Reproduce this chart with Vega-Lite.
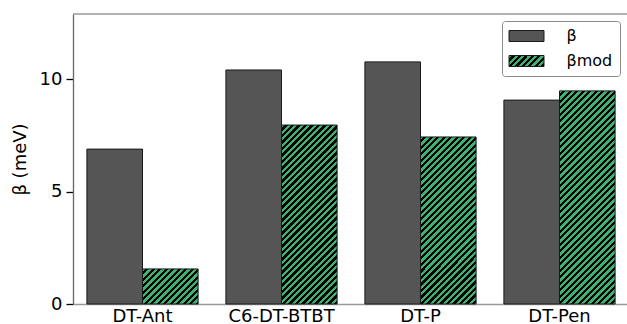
{
  "$schema": "https://vega.github.io/schema/vega-lite/v6.json",
  "width": 554,
  "height": 290,
  "autosize": {"type": "none"},
  "padding": {"left": 73, "top": 14, "right": 0, "bottom": 20},
  "background": "white",
  "params": [
    {
      "name": "hatch",
      "value": [
        {"offset": 0, "color": "#3cb371"},
        {"offset": 0.01, "color": "#3cb371"}, {"offset": 0.01, "color": "#000000"},
        {"offset": 0.02, "color": "#000000"}, {"offset": 0.02, "color": "#3cb371"},
        {"offset": 0.03, "color": "#3cb371"}, {"offset": 0.03, "color": "#000000"},
        {"offset": 0.04, "color": "#000000"}, {"offset": 0.04, "color": "#3cb371"},
        {"offset": 0.05, "color": "#3cb371"}, {"offset": 0.05, "color": "#000000"},
        {"offset": 0.06, "color": "#000000"}, {"offset": 0.06, "color": "#3cb371"},
        {"offset": 0.07, "color": "#3cb371"}, {"offset": 0.07, "color": "#000000"},
        {"offset": 0.08, "color": "#000000"}, {"offset": 0.08, "color": "#3cb371"},
        {"offset": 0.09, "color": "#3cb371"}, {"offset": 0.09, "color": "#000000"},
        {"offset": 0.10, "color": "#000000"}, {"offset": 0.10, "color": "#3cb371"},
        {"offset": 0.11, "color": "#3cb371"}, {"offset": 0.11, "color": "#000000"},
        {"offset": 0.12, "color": "#000000"}, {"offset": 0.12, "color": "#3cb371"},
        {"offset": 0.13, "color": "#3cb371"}, {"offset": 0.13, "color": "#000000"},
        {"offset": 0.14, "color": "#000000"}, {"offset": 0.14, "color": "#3cb371"},
        {"offset": 0.15, "color": "#3cb371"}, {"offset": 0.15, "color": "#000000"},
        {"offset": 0.16, "color": "#000000"}, {"offset": 0.16, "color": "#3cb371"},
        {"offset": 0.17, "color": "#3cb371"}, {"offset": 0.17, "color": "#000000"},
        {"offset": 0.18, "color": "#000000"}, {"offset": 0.18, "color": "#3cb371"},
        {"offset": 0.19, "color": "#3cb371"}, {"offset": 0.19, "color": "#000000"},
        {"offset": 0.20, "color": "#000000"}, {"offset": 0.20, "color": "#3cb371"},
        {"offset": 0.21, "color": "#3cb371"}, {"offset": 0.21, "color": "#000000"},
        {"offset": 0.22, "color": "#000000"}, {"offset": 0.22, "color": "#3cb371"},
        {"offset": 0.23, "color": "#3cb371"}, {"offset": 0.23, "color": "#000000"},
        {"offset": 0.24, "color": "#000000"}, {"offset": 0.24, "color": "#3cb371"},
        {"offset": 0.25, "color": "#3cb371"}, {"offset": 0.25, "color": "#000000"},
        {"offset": 0.26, "color": "#000000"}, {"offset": 0.26, "color": "#3cb371"},
        {"offset": 0.27, "color": "#3cb371"}, {"offset": 0.27, "color": "#000000"},
        {"offset": 0.28, "color": "#000000"}, {"offset": 0.28, "color": "#3cb371"},
        {"offset": 0.29, "color": "#3cb371"}, {"offset": 0.29, "color": "#000000"},
        {"offset": 0.30, "color": "#000000"}, {"offset": 0.30, "color": "#3cb371"},
        {"offset": 0.31, "color": "#3cb371"}, {"offset": 0.31, "color": "#000000"},
        {"offset": 0.32, "color": "#000000"}, {"offset": 0.32, "color": "#3cb371"},
        {"offset": 0.33, "color": "#3cb371"}, {"offset": 0.33, "color": "#000000"},
        {"offset": 0.34, "color": "#000000"}, {"offset": 0.34, "color": "#3cb371"},
        {"offset": 0.35, "color": "#3cb371"}, {"offset": 0.35, "color": "#000000"},
        {"offset": 0.36, "color": "#000000"}, {"offset": 0.36, "color": "#3cb371"},
        {"offset": 0.37, "color": "#3cb371"}, {"offset": 0.37, "color": "#000000"},
        {"offset": 0.38, "color": "#000000"}, {"offset": 0.38, "color": "#3cb371"},
        {"offset": 0.39, "color": "#3cb371"}, {"offset": 0.39, "color": "#000000"},
        {"offset": 0.40, "color": "#000000"}, {"offset": 0.40, "color": "#3cb371"},
        {"offset": 0.41, "color": "#3cb371"}, {"offset": 0.41, "color": "#000000"},
        {"offset": 0.42, "color": "#000000"}, {"offset": 0.42, "color": "#3cb371"},
        {"offset": 0.43, "color": "#3cb371"}, {"offset": 0.43, "color": "#000000"},
        {"offset": 0.44, "color": "#000000"}, {"offset": 0.44, "color": "#3cb371"},
        {"offset": 0.45, "color": "#3cb371"}, {"offset": 0.45, "color": "#000000"},
        {"offset": 0.46, "color": "#000000"}, {"offset": 0.46, "color": "#3cb371"},
        {"offset": 0.47, "color": "#3cb371"}, {"offset": 0.47, "color": "#000000"},
        {"offset": 0.48, "color": "#000000"}, {"offset": 0.48, "color": "#3cb371"},
        {"offset": 0.49, "color": "#3cb371"}, {"offset": 0.49, "color": "#000000"},
        {"offset": 0.50, "color": "#000000"}, {"offset": 0.50, "color": "#3cb371"},
        {"offset": 0.51, "color": "#3cb371"}, {"offset": 0.51, "color": "#000000"},
        {"offset": 0.52, "color": "#000000"}, {"offset": 0.52, "color": "#3cb371"},
        {"offset": 0.53, "color": "#3cb371"}, {"offset": 0.53, "color": "#000000"},
        {"offset": 0.54, "color": "#000000"}, {"offset": 0.54, "color": "#3cb371"},
        {"offset": 0.55, "color": "#3cb371"}, {"offset": 0.55, "color": "#000000"},
        {"offset": 0.56, "color": "#000000"}, {"offset": 0.56, "color": "#3cb371"},
        {"offset": 0.57, "color": "#3cb371"}, {"offset": 0.57, "color": "#000000"},
        {"offset": 0.58, "color": "#000000"}, {"offset": 0.58, "color": "#3cb371"},
        {"offset": 0.59, "color": "#3cb371"}, {"offset": 0.59, "color": "#000000"},
        {"offset": 0.60, "color": "#000000"}, {"offset": 0.60, "color": "#3cb371"},
        {"offset": 0.61, "color": "#3cb371"}, {"offset": 0.61, "color": "#000000"},
        {"offset": 0.62, "color": "#000000"}, {"offset": 0.62, "color": "#3cb371"},
        {"offset": 0.63, "color": "#3cb371"}, {"offset": 0.63, "color": "#000000"},
        {"offset": 0.64, "color": "#000000"}, {"offset": 0.64, "color": "#3cb371"},
        {"offset": 0.65, "color": "#3cb371"}, {"offset": 0.65, "color": "#000000"},
        {"offset": 0.66, "color": "#000000"}, {"offset": 0.66, "color": "#3cb371"},
        {"offset": 0.67, "color": "#3cb371"}, {"offset": 0.67, "color": "#000000"},
        {"offset": 0.68, "color": "#000000"}, {"offset": 0.68, "color": "#3cb371"},
        {"offset": 0.69, "color": "#3cb371"}, {"offset": 0.69, "color": "#000000"},
        {"offset": 0.70, "color": "#000000"}, {"offset": 0.70, "color": "#3cb371"},
        {"offset": 0.71, "color": "#3cb371"}, {"offset": 0.71, "color": "#000000"},
        {"offset": 0.72, "color": "#000000"}, {"offset": 0.72, "color": "#3cb371"},
        {"offset": 0.73, "color": "#3cb371"}, {"offset": 0.73, "color": "#000000"},
        {"offset": 0.74, "color": "#000000"}, {"offset": 0.74, "color": "#3cb371"},
        {"offset": 0.75, "color": "#3cb371"}, {"offset": 0.75, "color": "#000000"},
        {"offset": 0.76, "color": "#000000"}, {"offset": 0.76, "color": "#3cb371"},
        {"offset": 0.77, "color": "#3cb371"}, {"offset": 0.77, "color": "#000000"},
        {"offset": 0.78, "color": "#000000"}, {"offset": 0.78, "color": "#3cb371"},
        {"offset": 0.79, "color": "#3cb371"}, {"offset": 0.79, "color": "#000000"},
        {"offset": 0.80, "color": "#000000"}, {"offset": 0.80, "color": "#3cb371"},
        {"offset": 0.81, "color": "#3cb371"}, {"offset": 0.81, "color": "#000000"},
        {"offset": 0.82, "color": "#000000"}, {"offset": 0.82, "color": "#3cb371"},
        {"offset": 0.83, "color": "#3cb371"}, {"offset": 0.83, "color": "#000000"},
        {"offset": 0.84, "color": "#000000"}, {"offset": 0.84, "color": "#3cb371"},
        {"offset": 0.85, "color": "#3cb371"}, {"offset": 0.85, "color": "#000000"},
        {"offset": 0.86, "color": "#000000"}, {"offset": 0.86, "color": "#3cb371"},
        {"offset": 0.87, "color": "#3cb371"}, {"offset": 0.87, "color": "#000000"},
        {"offset": 0.88, "color": "#000000"}, {"offset": 0.88, "color": "#3cb371"},
        {"offset": 0.89, "color": "#3cb371"}, {"offset": 0.89, "color": "#000000"},
        {"offset": 0.90, "color": "#000000"}, {"offset": 0.90, "color": "#3cb371"},
        {"offset": 0.91, "color": "#3cb371"}, {"offset": 0.91, "color": "#000000"},
        {"offset": 0.92, "color": "#000000"}, {"offset": 0.92, "color": "#3cb371"},
        {"offset": 0.93, "color": "#3cb371"}, {"offset": 0.93, "color": "#000000"},
        {"offset": 0.94, "color": "#000000"}, {"offset": 0.94, "color": "#3cb371"},
        {"offset": 0.95, "color": "#3cb371"}, {"offset": 0.95, "color": "#000000"},
        {"offset": 0.96, "color": "#000000"}, {"offset": 0.96, "color": "#3cb371"},
        {"offset": 0.97, "color": "#3cb371"}, {"offset": 0.97, "color": "#000000"},
        {"offset": 0.98, "color": "#000000"}, {"offset": 0.98, "color": "#3cb371"},
        {"offset": 0.99, "color": "#3cb371"}, {"offset": 0.99, "color": "#000000"},
        {"offset": 1, "color": "#000000"}
      ]
    }
  ],
  "config": {
    "view": {"stroke": null},
    "font": "DejaVu Sans",
    "axis": {"grid": false, "labelFont": "DejaVu Sans", "titleFont": "DejaVu Sans", "labelColor": "#000000", "titleColor": "#000000"},
    "legend": {"labelFont": "DejaVu Sans"}
  },
  "data": {
    "values": [
      {"molecule": "DT-Ant", "series": "β", "value": 6.89},
      {"molecule": "DT-Ant", "series": "βmod", "value": 1.56},
      {"molecule": "C6-DT-BTBT", "series": "β", "value": 10.41},
      {"molecule": "C6-DT-BTBT", "series": "βmod", "value": 7.96},
      {"molecule": "DT-P", "series": "β", "value": 10.77},
      {"molecule": "DT-P", "series": "βmod", "value": 7.43},
      {"molecule": "DT-Pen", "series": "β", "value": 9.07},
      {"molecule": "DT-Pen", "series": "βmod", "value": 9.48}
    ]
  },
  "layer": [
    {
      "mark": {"type": "bar", "stroke": "#1a1a1a", "strokeWidth": 1},
      "encoding": {
        "x": {
          "field": "molecule", "type": "nominal", "sort": null,
          "scale": {"range": [0, 556], "paddingInner": 0.2, "paddingOuter": 0.1},
          "axis": {"title": null, "labelAngle": 0, "labelFontSize": 18, "labelPadding": 3, "ticks": false, "domainColor": "#999999", "domainWidth": 1.3}
        },
        "xOffset": {"field": "series", "type": "nominal", "sort": null, "scale": {"paddingInner": 0, "paddingOuter": 0}},
        "y": {
          "field": "value", "type": "quantitative",
          "scale": {"domain": [0, 12.9], "nice": false},
          "axis": {"title": "β (meV)", "values": [0, 5, 10], "labelFontSize": 18, "titleFontSize": 18, "titleFontWeight": "normal", "tickSize": 7, "tickWidth": 1.3, "tickColor": "#000000", "labelPadding": 4, "titlePadding": 10, "domainColor": "#666666", "domainWidth": 1.3}
        },
        "fill": {
          "field": "series", "type": "nominal", "sort": null,
          "scale": {"domain": ["β", "βmod"], "range": ["#555555", {"expr": "{gradient: 'linear', x1: 0, y1: 0, x2: 8.451, y2: 2.656, stops: hatch}"}]},
          "legend": {
            "title": null, "orient": "top-right", "offset": 7, "padding": 7,
            "strokeColor": "#888888", "fillColor": "#ffffff", "cornerRadius": 3,
            "symbolType": "M-3.18,-1H3.18V1H-3.18Z", "symbolSize": 121, "symbolOffset": 9.5,
            "symbolStrokeColor": "#1a1a1a", "symbolStrokeWidth": 1, "symbolOpacity": 1,
            "labelOffset": 32, "labelFontSize": 16, "labelColor": "#000000", "rowPadding": 9
          },
          "condition": [
            {"test": "datum.series === 'βmod' && datum.molecule === 'DT-Ant'", "value": {"expr": "{gradient: 'linear', x1: 0, y1: 0, x2: 4.180, y2: 2.639, stops: hatch}"}},
            {"test": "datum.series === 'βmod' && datum.molecule === 'C6-DT-BTBT'", "value": {"expr": "{gradient: 'linear', x1: 0, y1: 0, x2: 0.5149, y2: 1.6567, stops: hatch}"}},
            {"test": "datum.series === 'βmod' && datum.molecule === 'DT-P'", "value": {"expr": "{gradient: 'linear', x1: 0, y1: 0, x2: 0.5833, y2: 1.7520, stops: hatch}"}},
            {"test": "datum.series === 'βmod' && datum.molecule === 'DT-Pen'", "value": {"expr": "{gradient: 'linear', x1: 0, y1: 0, x2: 0.3726, y2: 1.4279, stops: hatch}"}}
          ]
        }
      }
    },
    {
      "data": {"values": [{}]},
      "mark": {"type": "rule", "color": "#999999", "strokeWidth": 1.3},
      "encoding": {"y": {"datum": 12.9}}
    }
  ]
}
